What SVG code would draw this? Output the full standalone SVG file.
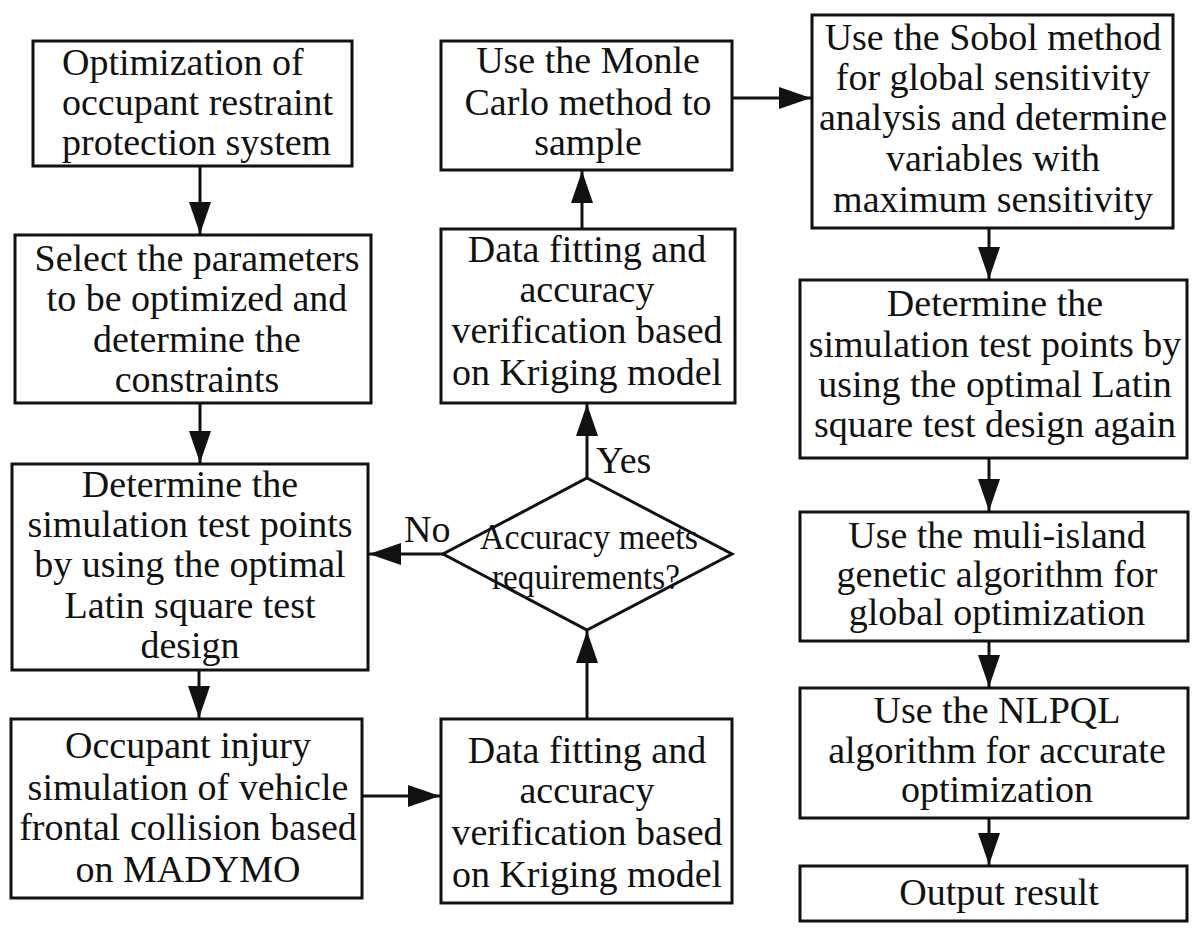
<svg xmlns="http://www.w3.org/2000/svg" width="1200" height="939" viewBox="0 0 1200 939">
<style>
  .box { fill: #fff; stroke: #111; stroke-width: 3; }
  .t { font-family: "Liberation Serif", "Times New Roman", serif; font-size: 38px; fill: #111; text-anchor: middle; }
  .ts { text-anchor: start; }
  .d { font-size: 35px; }
  .c { stroke: #111; stroke-width: 3; fill: none; marker-end: url(#ah); }
</style>
<defs>
  <marker id="ah" markerUnits="userSpaceOnUse" markerWidth="32" markerHeight="22" refX="32" refY="11" orient="auto" viewBox="0 0 32 22">
    <path d="M0,0 L32,11 L0,22 Z" fill="#111"/>
  </marker>
</defs>
<rect width="1200" height="939" fill="#fff"/>

<g id="connectors">
  <line class="c" x1="200" y1="166" x2="200" y2="234"/>
  <line class="c" x1="200" y1="403" x2="200" y2="463"/>
  <line class="c" x1="199" y1="670" x2="199" y2="718"/>
  <line class="c" x1="362" y1="796" x2="440" y2="796"/>
  <line class="c" x1="587" y1="719" x2="587" y2="631"/>
  <line class="c" x1="587" y1="478" x2="587" y2="404"/>
  <line class="c" x1="582" y1="229" x2="582" y2="171"/>
  <line class="c" x1="732" y1="98" x2="811" y2="98"/>
  <line class="c" x1="443" y1="554" x2="369" y2="554"/>
  <line class="c" x1="989" y1="228" x2="989" y2="279"/>
  <line class="c" x1="989" y1="458" x2="989" y2="511"/>
  <line class="c" x1="989" y1="641" x2="989" y2="687"/>
  <line class="c" x1="989" y1="818" x2="989" y2="865"/>
  <text class="t ts" x="596" y="473">Yes</text>
  <text class="t ts" x="404" y="542">No</text>
</g>

<g id="n1">
  <rect class="box" x="33" y="41" width="319" height="125"/>
  <text class="t ts" x="62" y="75">Optimization of</text>
  <text class="t ts" x="62" y="115">occupant restraint</text>
  <text class="t ts" x="62" y="155">protection system</text>
</g>
<g id="n2">
  <rect class="box" x="15" y="235" width="356" height="168"/>
  <text class="t" x="197" y="271">Select the parameters</text>
  <text class="t" x="197" y="311">to be optimized and</text>
  <text class="t" x="197" y="352">determine the</text>
  <text class="t" x="197" y="392">constraints</text>
</g>
<g id="n3">
  <rect class="box" x="12" y="464" width="356" height="206"/>
  <text class="t" x="190" y="497">Determine the</text>
  <text class="t" x="190" y="537">simulation test points</text>
  <text class="t" x="190" y="577">by using the optimal</text>
  <text class="t" x="190" y="618">Latin square test</text>
  <text class="t" x="190" y="658">design</text>
</g>
<g id="n4">
  <rect class="box" x="11" y="719" width="351" height="179"/>
  <text class="t" x="188" y="758">Occupant injury</text>
  <text class="t" x="188" y="800">simulation of vehicle</text>
  <text class="t" x="188" y="840">frontal collision based</text>
  <text class="t" x="188" y="882">on MADYMO</text>
</g>
<g id="n5">
  <rect class="box" x="441" y="719" width="291" height="184"/>
  <text class="t" x="587" y="763">Data fitting and</text>
  <text class="t" x="587" y="803">accuracy</text>
  <text class="t" x="587" y="845">verification based</text>
  <text class="t" x="587" y="887">on Kriging model</text>
</g>
<g id="n6">
  <polygon class="box" points="587,478 732,554 587,630 443,554"/>
  <text class="t d" x="589" y="549" textLength="218" lengthAdjust="spacingAndGlyphs">Accuracy meets</text>
  <text class="t d" x="586" y="589" textLength="188" lengthAdjust="spacingAndGlyphs">requirements?</text>
</g>
<g id="n7">
  <rect class="box" x="441" y="229" width="294" height="174"/>
  <text class="t" x="587" y="262">Data fitting and</text>
  <text class="t" x="587" y="302">accuracy</text>
  <text class="t" x="587" y="343">verification based</text>
  <text class="t" x="587" y="385">on Kriging model</text>
</g>
<g id="n8">
  <rect class="box" x="441" y="41" width="291" height="129"/>
  <text class="t" x="588" y="73">Use the Monle</text>
  <text class="t" x="588" y="115">Carlo method to</text>
  <text class="t" x="588" y="155">sample</text>
</g>
<g id="n9">
  <rect class="box" x="812" y="15" width="361" height="213"/>
  <text class="t" x="993" y="50">Use the Sobol method</text>
  <text class="t" x="993" y="90">for global sensitivity</text>
  <text class="t" x="993" y="130">analysis and determine</text>
  <text class="t" x="993" y="171">variables with</text>
  <text class="t" x="993" y="212">maximum sensitivity</text>
</g>
<g id="n10">
  <rect class="box" x="800" y="280" width="387" height="178"/>
  <text class="t" x="995" y="316">Determine the</text>
  <text class="t" x="995" y="357">simulation test points by</text>
  <text class="t" x="995" y="397">using the optimal Latin</text>
  <text class="t" x="995" y="437">square test design again</text>
</g>
<g id="n11">
  <rect class="box" x="800" y="512" width="388" height="129"/>
  <text class="t" x="997" y="548">Use the muli-island</text>
  <text class="t" x="997" y="587">genetic algorithm for</text>
  <text class="t" x="997" y="625">global optimization</text>
</g>
<g id="n12">
  <rect class="box" x="800" y="688" width="388" height="130"/>
  <text class="t" x="997" y="723">Use the NLPQL</text>
  <text class="t" x="997" y="763">algorithm for accurate</text>
  <text class="t" x="997" y="802">optimization</text>
</g>
<g id="n13">
  <rect class="box" x="800" y="866" width="387" height="55"/>
  <text class="t" x="999" y="905">Output result</text>
</g>
</svg>
